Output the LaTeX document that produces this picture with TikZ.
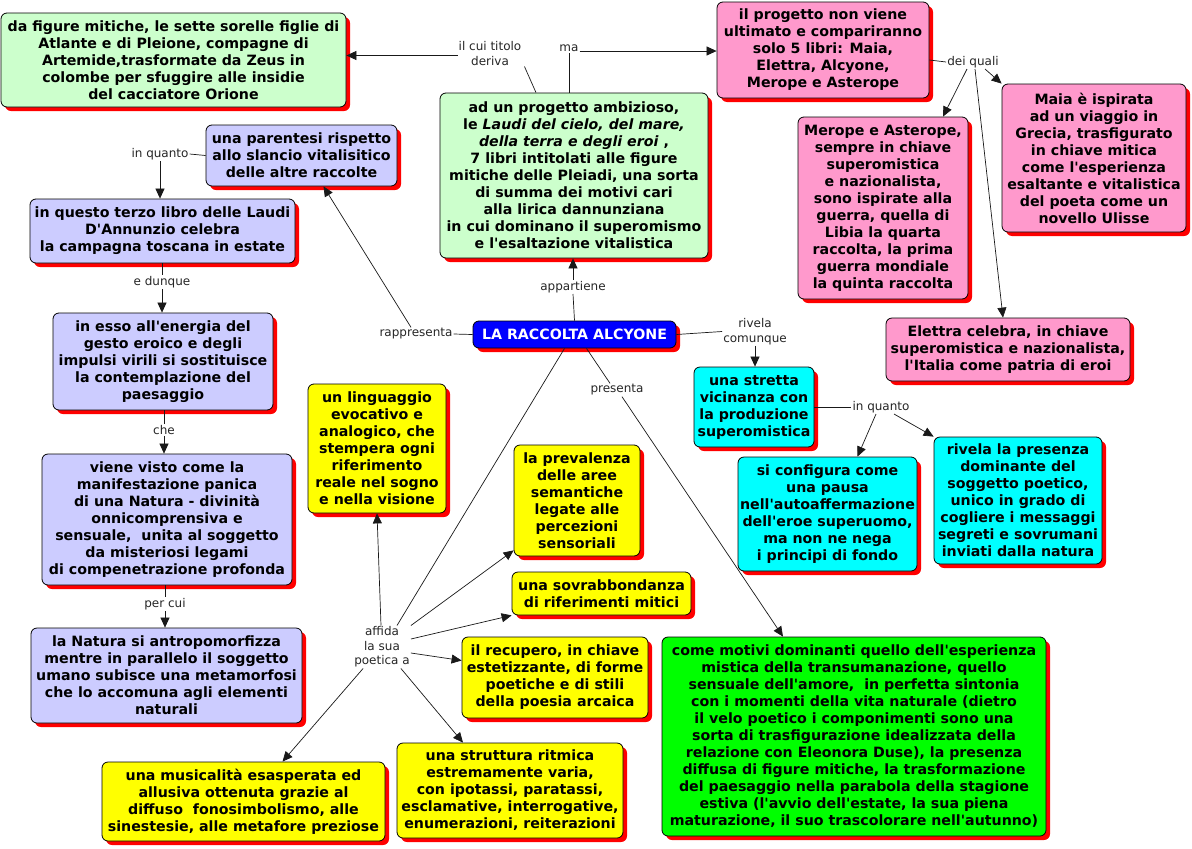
\documentclass[tikz,border=0pt]{standalone}
\usepackage{fontspec}
\setmainfont{DejaVu Sans}
\newfontfamily\vfont{DejaVu Sans}
\usetikzlibrary{arrows.meta,shadows,calc}
\definecolor{cgreen}{HTML}{CCFFCC}
\definecolor{cpink}{HTML}{FF99CC}
\definecolor{clav}{HTML}{CCCCFF}
\definecolor{cyel}{HTML}{FFFF00}
\definecolor{ccyan}{HTML}{00FFFF}
\definecolor{cbright}{HTML}{00FF00}
\definecolor{cblue}{HTML}{0000FF}
\definecolor{cshadow}{HTML}{FF0000}
\tikzset{
  concept/.style={draw=black, line width=0.8pt, rounded corners=6pt, align=center,
    inner sep=2pt, font=\vfont\fontsize{14.2}{17}\selectfont\bfseries,
    drop shadow={shadow xshift=4pt, shadow yshift=-4pt, fill=cshadow, opacity=1}},
  linkph/.style={inner sep=1pt, align=center, text=black!85,
    font=\vfont\fontsize{12}{14.5}\selectfont},
  conn/.style={line width=0.7pt, black!90},
  arr/.style={conn, -{Triangle[length=10pt,width=9pt]}},
}
\begin{document}
\begin{tikzpicture}[x=1pt,y=-1pt]
\useasboundingbox[fill=white] (0,0) rectangle (1192,849);

% ---- concepts ----
\node[concept, fill=cgreen, minimum width=345, minimum height=94] (fig) at (173.5,60)
 {da figure mitiche, le sette sorelle figlie di\\Atlante e di Pleione, compagne di\\Artemide,trasformate da Zeus in\\colombe per sfuggire alle insidie\\del cacciatore Orione};
\node[concept, fill=cgreen, minimum width=268, minimum height=165] (prog) at (574,175.5)
 {ad un progetto ambizioso,\\le \textit{Laudi del cielo, del mare,}\\\textit{della terra e degli eroi} ,\\7 libri intitolati alle figure\\mitiche delle Pleiadi, una sorta\\di summa dei motivi cari\\alla lirica dannunziana\\in cui dominano il superomismo\\e l'esaltazione vitalistica};
\node[concept, fill=cpink, minimum width=212, minimum height=96] (ult) at (823,50)
 {il progetto non viene\\ultimato e compariranno\\solo 5 libri: Maia,\\Elettra, Alcyone,\\Merope e Asterope};
\node[concept, fill=cpink, minimum width=170, minimum height=182] (mer) at (883,208)
 {Merope e Asterope,\\sempre in chiave\\superomistica\\e nazionalista,\\sono ispirate alla\\guerra, quella di\\Libia la quarta\\raccolta, la prima\\guerra mondiale\\la quinta raccolta};
\node[concept, fill=cpink, minimum width=184, minimum height=148] (maia) at (1094,158)
 {Maia è ispirata\\ad un viaggio in\\Grecia, trasfigurato\\in chiave mitica\\come l'esperienza\\esaltante e vitalistica\\del poeta come un\\novello Ulisse};
\node[concept, fill=cpink, minimum width=244, minimum height=63] (ele) at (1008,349.5)
 {Elettra celebra, in chiave\\superomistica e nazionalista,\\l'Italia come patria di eroi};
\node[concept, fill=cblue, text=white, minimum width=203, minimum height=27, inner sep=1pt] (alc) at (574.5,334.5)
 {LA RACCOLTA ALCYONE};
\node[concept, fill=clav, minimum width=191, minimum height=61] (par) at (301.5,155.5)
 {una parentesi rispetto\\allo slancio vitalisitico\\delle altre raccolte};
\node[concept, fill=clav, minimum width=265, minimum height=64] (ter) at (162.5,231)
 {in questo terzo libro delle Laudi\\D'Annunzio celebra\\la campagna toscana in estate};
\node[concept, fill=clav, minimum width=220, minimum height=97] (ess) at (163,361.5)
 {in esso all'energia del\\gesto eroico e degli\\impulsi virili si sostituisce\\la contemplazione del\\paesaggio};
\node[concept, fill=clav, minimum width=250, minimum height=131] (vie) at (167,519.5)
 {viene visto come la\\manifestazione panica\\di una Natura - divinità\\onnicomprensiva e\\sensuale,\ \ unita al soggetto\\da misteriosi legami\\di compenetrazione profonda};
\node[concept, fill=clav, minimum width=271, minimum height=95] (nat) at (166.5,675.5)
 {la Natura si antropomorfizza\\mentre in parallelo il soggetto\\umano subisce una metamorfosi\\che lo accomuna agli elementi\\naturali};
\node[concept, fill=cyel, minimum width=138, minimum height=129] (lin) at (377,448.5)
 {un linguaggio\\evocativo e\\analogico, che\\stempera ogni\\riferimento\\reale nel sogno\\e nella visione};
\node[concept, fill=cyel, minimum width=126, minimum height=111] (pre) at (577,500.5)
 {la prevalenza\\delle aree\\semantiche\\legate alle\\percezioni\\sensoriali};
\node[concept, fill=cyel, minimum width=179, minimum height=43] (sov) at (601.5,593.5)
 {una sovrabbondanza\\di riferimenti mitici};
\node[concept, fill=cyel, minimum width=186, minimum height=81] (rec) at (555,677.5)
 {il recupero, in chiave\\estetizzante, di forme\\poetiche e di stili\\della poesia arcaica};
\node[concept, fill=cyel, minimum width=226, minimum height=95] (str) at (510,790.5)
 {una struttura ritmica\\estremamente varia,\\con ipotassi, paratassi,\\esclamative, interrogative,\\enumerazioni, reiterazioni};
\node[concept, fill=cyel, minimum width=283, minimum height=79] (mus) at (243.5,801.5)
 {una musicalità esasperata ed\\allusiva ottenuta grazie al\\diffuso\ \ fonosimbolismo, alle\\sinestesie, alle metafore preziose};
\node[concept, fill=cbright, minimum width=384, minimum height=199] (mot) at (854,736.5)
 {come motivi dominanti quello dell'esperienza\\mistica della transumanazione, quello\\sensuale dell'amore,\ \ in perfetta sintonia\\con i momenti della vita naturale (dietro\\il velo poetico i componimenti sono una\\sorta di trasfigurazione idealizzata della\\relazione con Eleonora Duse), la presenza\\diffusa di figure mitiche, la trasformazione\\del paesaggio nella parabola della stagione\\estiva (l'avvio dell'estate, la sua piena\\maturazione, il suo trascolorare nell'autunno)};
\node[concept, fill=ccyan, minimum width=120, minimum height=80] (vic) at (754,407)
 {una stretta\\vicinanza con\\la produzione\\superomistica};
\node[concept, fill=ccyan, minimum width=179, minimum height=114] (con) at (827.5,514)
 {si configura come\\una pausa\\nell'autoaffermazione\\dell'eroe superuomo,\\ma non ne nega\\i principi di fondo};
\node[concept, fill=ccyan, minimum width=168, minimum height=127] (riv) at (1018,500.5)
 {rivela la presenza\\dominante del\\soggetto poetico,\\unico in grado di\\cogliere i messaggi\\segreti e sovrumani\\inviati dalla natura};

% ---- linking phrases ----
\node[linkph] (l1) at (490,53.5) {il cui titolo\\deriva};
\node[linkph] (l2) at (569,48) {ma};
\node[linkph] (l3) at (973,62) {dei quali};
\node[linkph] (l4) at (160,154) {in quanto};
\node[linkph] (l5) at (162,282) {e dunque};
\node[linkph] (l6) at (164,430) {che};
\node[linkph] (l7) at (165,604) {per cui};
\node[linkph] (l8) at (416,334) {rappresenta};
\node[linkph] (l9) at (573,287) {appartiene};
\node[linkph] (l10) at (755,331.5) {rivela\\comunque};
\node[linkph] (l11) at (617,390) {presenta};
\node[linkph] (l12) at (881,407) {in quanto};
\node[linkph] (l13) at (382,647) {affida\\la sua\\poetica a};

% ---- connectors ----
\draw[conn] ([xshift=-38pt]prog.north) -- ([xshift=2pt]l1.south east);
\draw[arr] ([yshift=-2pt]l1.west) -- ([yshift=-2pt]l1.west -| fig.east);
\draw[conn] ([xshift=-5pt]prog.north) -- (l2.south);
\draw[arr] ([yshift=-3pt]l2.east) -- ([yshift=-3pt]l2.east -| ult.west);
\draw[conn] ([yshift=-10pt]ult.east) -- (l3.west);
\draw[arr] ([xshift=-6pt]l3.south) -- ([xshift=60pt]mer.north);
\draw[arr] ([xshift=12pt]l3.south) -- (maia.north west);
\draw[arr] ([xshift=2pt]l3.south) -- ([xshift=-5pt]ele.north);
\draw[conn] (alc.north) -- (l9.south);
\draw[arr] (l9.north) -- (l9.north |- prog.south);
\draw[conn] (alc.west) -- (l8.east);
\draw[arr] ([xshift=-5pt]l8.north) -- ([xshift=22pt]par.south);
\draw[conn] (par.west) -- (l4.east);
\draw[arr] (l4.south) -- (l4.south |- ter.north);
\draw[conn] (l5.north |- ter.south) -- (l5.north);
\draw[arr] (l5.south) -- (l5.south |- ess.north);
\draw[conn] (l6.north |- ess.south) -- (l6.north);
\draw[arr] (l6.south) -- (l6.south |- vie.north);
\draw[conn] (l7.north |- vie.south) -- (l7.north);
\draw[arr] (l7.south) -- (l7.south |- nat.north);
\draw[conn] (alc.east) -- (l10.west);
\draw[arr] (l10.south) -- (l10.south |- vic.north);
\draw[conn] (vic.east) -- (l12.west);
\draw[arr] ([xshift=-5pt]l12.south) -- ([xshift=30pt]con.north);
\draw[arr] ([xshift=13pt]l12.south) -- (riv.north west);
\draw[conn] ([xshift=12pt]alc.south) -- ([xshift=-7pt]l11.north);
\draw[arr] ([xshift=5pt]l11.south) -- ([xshift=-71pt]mot.north);
\draw[conn] ([xshift=-10pt]alc.south) -- ([xshift=15pt]l13.north);
\draw[arr] ([xshift=-1pt]l13.north) -- (lin.south);
\draw[arr] (l13.north east) -- ([yshift=6pt]pre.south west);
\draw[arr] ([yshift=8pt]l13.east) -- (sov.south west);
\draw[arr] ([yshift=-6pt]l13.east) -- ([yshift=17pt]rec.west);
\draw[arr] ([xshift=-10pt]l13.south east) -- ([xshift=-47pt]str.north);
\draw[arr] ([xshift=10pt]l13.south west) -- ([xshift=39pt]mus.north);
\end{tikzpicture}
\end{document}
